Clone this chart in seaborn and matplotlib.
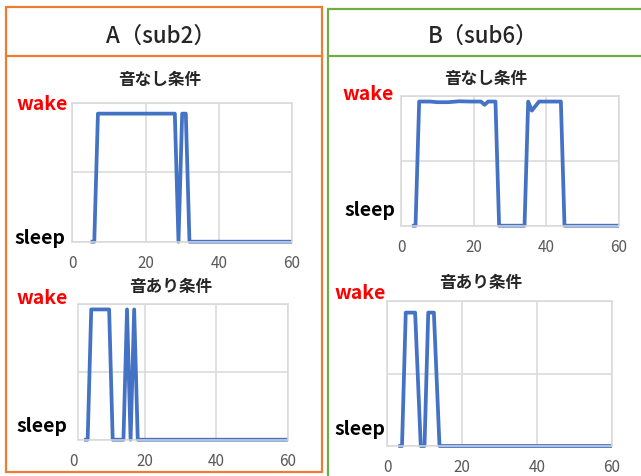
import matplotlib
matplotlib.use('Agg')
import matplotlib.pyplot as plt
import seaborn as sns
import pandas as pd
from matplotlib.patches import Rectangle
from matplotlib.lines import Line2D

# minute of recording vs state (0 = sleep, top = wake)
a_silent_min = [5, 6, 7, 28, 29, 30, 31, 32, 60]
a_silent_state = [0, 0, 0.92, 0.92, 0, 0.92, 0.92, 0, 0]

a_sound_min = [3, 4, 5, 10, 11, 14, 15, 16, 17, 18, 60]
a_sound_state = [0, 0, 0.96, 0.96, 0, 0, 0.96, 0, 0.96, 0, 0]

b_silent_min = [3, 4, 5, 8, 10, 13, 16, 19, 22, 23, 24, 26, 27, 34, 35, 36, 38, 44, 45, 60]
b_silent_state = [0, 0, 0.955, 0.955, 0.95, 0.95, 0.957, 0.955, 0.955, 0.93, 0.955, 0.955,
                  0, 0, 0.955, 0.885, 0.955, 0.955, 0, 0]

b_sound_min = [3, 4, 5, 7.5, 9, 10, 11, 12.5, 14, 60]
b_sound_state = [0, 0, 0.92, 0.92, 0, 0, 0.92, 0.92, 0, 0]

x_ticks = [0, 20, 40, 60]
panel_titles = ['A（sub2）', 'B（sub6）']
cond_titles = ['音なし条件', '音あり条件']

W, H = 641, 477
LINE = '#4472C4'
GRID = '#D9D9D9'
ORANGE = '#ED7D31'
GREEN = '#70AD47'

sns.set_style('white')
plt.rcParams['font.family'] = ['Noto Sans CJK JP', 'DejaVu Sans']

fig = plt.figure(figsize=(W / 100, H / 100), dpi=100)


def rect(l, t, r, b):
    return [l / W, 1 - b / H, (r - l) / W, (b - t) / H]


def ftext(x, y, s, **kw):
    fig.text(x / W, 1 - y / H, s, ha='center', va='center', **kw)


def hline(x0, x1, y, color):
    fig.add_artist(Line2D([x0 / W, x1 / W], [1 - y / H, 1 - y / H],
                          transform=fig.transFigure, color=color, lw=1.6))


# panel frames
fig.add_artist(Rectangle((6 / W, 1 - 473 / H), 316 / W, 465 / H, transform=fig.transFigure,
                         fill=False, edgecolor=ORANGE, lw=1.6))
hline(6, 322, 57, ORANGE)
fig.add_artist(Rectangle((328 / W, 1 - 490 / H), 330 / W, 480 / H, transform=fig.transFigure,
                         fill=False, edgecolor=GREEN, lw=1.6))
hline(328, 641, 57, GREEN)

ftext(160.5, 36, panel_titles[0], fontsize=16, fontweight='medium')
ftext(483, 36, panel_titles[1], fontsize=16, fontweight='medium')

# (x, y data, box in px, xlim, title pos, wake pos, sleep pos, left ticks)
panels = [
    (a_silent_min, a_silent_state, (72.3, 103.5, 292, 242.7), (0, 60),
     (160, 80), (42, 104), (40, 238), True, cond_titles[0]),
    (a_sound_min, a_sound_state, (78, 305, 288, 440.7), (1.3, 60),
     (171, 287), (42.5, 298), (41.5, 427), False, cond_titles[1]),
    (b_silent_min, b_silent_state, (401, 96.7, 619, 226.7), (0, 60),
     (486, 79), (368, 95), (369.5, 211), False, cond_titles[0]),
    (b_sound_min, b_sound_state, (387, 302, 612, 447), (0, 60),
     (481, 283), (360.5, 294), (360, 430), False, cond_titles[1]),
]

for xs, ys, box, xlim, tpos, wpos, spos, lticks, title in panels:
    ax = fig.add_axes(rect(*box))
    df = pd.DataFrame({'minute': xs, 'state': ys})
    sns.lineplot(data=df, x='minute', y='state', ax=ax, color=LINE, lw=2.7,
                 sort=False, clip_on=False, solid_joinstyle='round', solid_capstyle='butt')
    ax.set_xlim(*xlim)
    ax.set_ylim(0, 1)
    # the left edge of the A/音あり plot is cut off, so its "0" is added by hand
    ax.set_xticks([t for t in x_ticks if t >= xlim[0]])
    ax.set_yticks([0, 0.5, 1])
    ax.set_yticklabels([])
    ax.grid(True, color=GRID, lw=1.1)
    ax.set_axisbelow(True)
    for sp in ax.spines.values():
        sp.set_color(GRID)
        sp.set_linewidth(1.1)
    ax.tick_params(axis='x', length=3, color=GRID, width=1.1, labelsize=11,
                   labelcolor='#595959', pad=6)
    ax.tick_params(axis='y', length=5 if lticks else 0, color=GRID, width=1.1)
    ax.set_xlabel('')
    ax.set_ylabel('')
    if xlim[0] > 0:
        ax.text(0, -0.155, '0', transform=ax.get_xaxis_transform(), ha='center', va='center',
                fontsize=11, color='#595959', clip_on=False)

    ftext(tpos[0], tpos[1], title, fontsize=12, fontweight='bold')
    ftext(wpos[0], wpos[1], 'wake', fontsize=14, fontweight='bold', color='red')
    ftext(spos[0], spos[1], 'sleep', fontsize=14, fontweight='bold', color='black')

fig.savefig('out.png', dpi=100)
